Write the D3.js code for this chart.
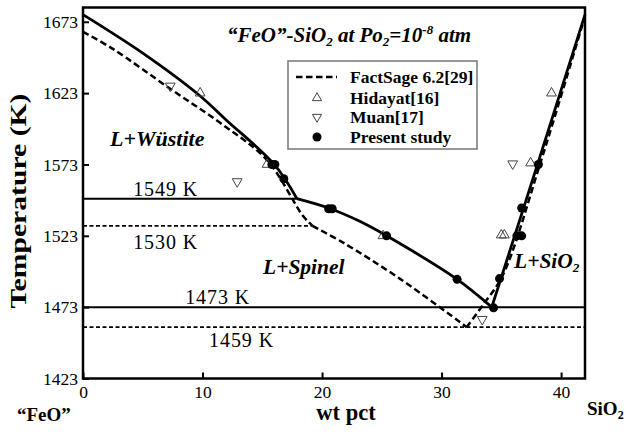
<!DOCTYPE html>
<html>
<head>
<meta charset="utf-8">
<script src="https://cdn.jsdelivr.net/npm/d3@7"></script>
<style>
  body { margin: 0; background: #fff; }
  svg { display: block; font-family: "Liberation Serif", "Times New Roman", serif; }
</style>
</head>
<body>
<svg id="chart" width="628" height="434"></svg>
<script>
// "FeO"-SiO2 phase diagram at Po2 = 1e-8 atm.
// Curves are [wt pct SiO2, temperature K] pairs.

const xTicks = [0, 10, 20, 30, 40];
const tTicks = [1423, 1473, 1523, 1573, 1623, 1673];

// Present study liquidus (solid)
const presentWustite = [[0, 1678], [5, 1651], [9.8, 1621], [12, 1604], [16, 1573], [17.9, 1549]];
const presentSpinel = [[17.9, 1549], [20.7, 1542], [23.2, 1533], [25.4, 1523], [31.3, 1492.5], [34.2, 1473]];
const presentSilica = [[34.2, 1473], [38.1, 1575], [42, 1678]];

// FactSage 6.2 liquidus (dashed)
const factWustite = [[0, 1666], [2.5, 1654], [7.3, 1626], [11.5, 1602], [15.4, 1576], [18.4, 1537], [19.2, 1530]];
const factSpinel = [[19.2, 1530], [21.8, 1518], [26.5, 1493], [32.1, 1459]];
const factSilica = [[32.1, 1459], [33.5, 1475], [35.1, 1495], [38.3, 1575], [42, 1677]];

// Isotherms: temperature, right end (wt pct), label
const isoTemps = [1549, 1530, 1473, 1459];
const isoEnds = [17.9, 19.2, 42, 42];
const isoLabels = ["1549 K", "1530 K", "1473 K", "1459 K"];

// Experimental points
const presentPts = [[15.8, 1573], [16.05, 1573], [16.8, 1563], [20.55, 1542], [20.85, 1542], [25.4, 1523],
  [31.3, 1492.5], [34.35, 1472.5], [34.85, 1493], [36.3, 1523], [36.7, 1523], [36.7, 1542.5], [38.1, 1573]];
const hidayatPts = [[9.8, 1623], [15.4, 1573], [25.1, 1523], [35.0, 1523.5], [35.25, 1523.5], [37.45, 1574], [39.2, 1623]];
const muanPts = [[7.3, 1628], [12.9, 1561], [33.4, 1464.5], [35.95, 1573.5]];

const legendNames = ["FactSage 6.2[29]", "Hidayat[16]", "Muan[17]", "Present study"];

const W = 628, H = 434;
const margin = { top: 7.5, right: 43, bottom: 55.5, left: 83 };
const iw = W - margin.left - margin.right;
const ih = H - margin.top - margin.bottom;

const svg = d3.select('#chart')
  .attr('font-family', '"Liberation Serif", "Times New Roman", serif');
const g = svg.append('g').attr('transform', `translate(${margin.left},${margin.top})`);

const x = d3.scaleLinear().domain([0, 42]).range([0, iw]);
const y = d3.scaleLinear().domain([1423, 1683]).range([ih, 0]);

// ----- Axes (ticks point inward) -----
const xAxis = g.append('g').attr('transform', `translate(0,${ih})`)
  .call(d3.axisBottom(x).tickValues(xTicks).tickSize(-6).tickPadding(7).tickFormat(d3.format('d')));
const yAxis = g.append('g')
  .call(d3.axisLeft(y).tickValues(tTicks).tickSize(-6).tickPadding(5).tickFormat(d3.format('d')));
[xAxis, yAxis].forEach(a => {
  a.attr('font-family', null);
  a.select('.domain').remove();
  a.selectAll('line').attr('stroke', '#000').attr('stroke-width', 2);
  a.selectAll('text').attr('fill', '#000').style('font-size', '17.5px')
    .style('font-family', '"Liberation Serif", "Times New Roman", serif');
});

// ----- Isotherms -----
const isoDash = [null, '4,2.5', null, '4,2.5'];
isoTemps.forEach((t, i) => {
  g.append('line')
    .attr('x1', x(0)).attr('x2', x(isoEnds[i]))
    .attr('y1', y(t)).attr('y2', y(t))
    .attr('stroke', '#000').attr('stroke-width', isoDash[i] ? 1.8 : 2)
    .attr('stroke-dasharray', isoDash[i]);
});
const isoLabelPos = [[4.2, -2.5], [4.2, 23], [8.55, -3], [10.55, 20]];
isoLabels.forEach((s, i) => {
  g.append('text')
    .attr('x', x(isoLabelPos[i][0])).attr('y', y(isoTemps[i]) + isoLabelPos[i][1])
    .attr('textLength', 64).attr('lengthAdjust', 'spacing')
    .style('font-size', '20px').text(s);
});

// ----- Liquidus curves -----
const line = d3.line().x(d => x(d[0])).y(d => y(d[1])).curve(d3.curveCatmullRom.alpha(0.5));
[presentWustite, presentSpinel, presentSilica].forEach(c => {
  g.append('path').attr('d', line(c)).attr('fill', 'none')
    .attr('stroke', '#000').attr('stroke-width', 2.8);
});
[factWustite, factSpinel, factSilica].forEach(c => {
  g.append('path').attr('d', line(c)).attr('fill', 'none')
    .attr('stroke', '#000').attr('stroke-width', 2.5).attr('stroke-dasharray', '6.5,3.5');
});

// ----- Points -----
const triUp = d3.symbol().type(d3.symbolTriangle).size(42);
g.selectAll('.hid').data(hidayatPts).enter().append('path')
  .attr('d', triUp)
  .attr('transform', d => `translate(${x(d[0])},${y(d[1])})`)
  .attr('fill', 'none').attr('stroke', '#444').attr('stroke-width', 1);
g.selectAll('.muan').data(muanPts).enter().append('path')
  .attr('d', triUp)
  .attr('transform', d => `translate(${x(d[0])},${y(d[1])}) rotate(180)`)
  .attr('fill', 'none').attr('stroke', '#444').attr('stroke-width', 1);
g.selectAll('.pres').data(presentPts).enter().append('circle')
  .attr('cx', d => x(d[0])).attr('cy', d => y(d[1])).attr('r', 4.5).attr('fill', '#000');

// ----- Frame -----
g.append('rect').attr('width', iw).attr('height', ih)
  .attr('fill', 'none').attr('stroke', '#000').attr('stroke-width', 2.5);

// ----- Legend -----
const lg = svg.append('g').attr('transform', 'translate(288,61)');
lg.append('rect').attr('width', 189).attr('height', 88)
  .attr('fill', '#fff').attr('stroke', '#777').attr('stroke-width', 1.5);
const rowY = [16, 37, 56, 76];
lg.append('line').attr('x1', 8).attr('x2', 49).attr('y1', rowY[0]).attr('y2', rowY[0])
  .attr('stroke', '#000').attr('stroke-width', 2.5).attr('stroke-dasharray', '6.5,3.5');
const triSmall = d3.symbol().type(d3.symbolTriangle).size(36);
lg.append('path').attr('d', triSmall).attr('transform', `translate(29,${rowY[1]})`)
  .attr('fill', 'none').attr('stroke', '#444').attr('stroke-width', 1);
lg.append('path').attr('d', triSmall).attr('transform', `translate(29,${rowY[2]}) rotate(180)`)
  .attr('fill', 'none').attr('stroke', '#444').attr('stroke-width', 1);
lg.append('circle').attr('cx', 29).attr('cy', rowY[3]).attr('r', 4.5).attr('fill', '#000');
legendNames.forEach((s, i) => {
  lg.append('text').attr('x', 62).attr('y', rowY[i] + 6)
    .style('font-size', '17.5px').style('font-weight', 'bold').text(s);
});

// ----- Title -----
const title = svg.append('text').attr('x', 227).attr('y', 42)
  .style('font-size', '21px').style('font-weight', 'bold').style('font-style', 'italic');
title.append('tspan').text('\u201CFeO\u201D-SiO');
title.append('tspan').attr('dy', 4).style('font-size', '13px').text('2');
title.append('tspan').attr('dy', -4).text(' at Po');
title.append('tspan').attr('dy', 4).style('font-size', '13px').text('2');
title.append('tspan').attr('dy', -4).text('=10');
title.append('tspan').attr('dy', -8).style('font-size', '13px').text('-8');
title.append('tspan').attr('dy', 8).text(' atm');

// ----- Region labels -----
function regionLabel(px, py, size, main, sub) {
  const t = svg.append('text').attr('x', px).attr('y', py)
    .style('font-size', size + 'px').style('font-weight', 'bold').style('font-style', 'italic');
  t.append('tspan').text(main);
  if (sub) t.append('tspan').attr('dy', 4).style('font-size', (size * 0.62) + 'px').text(sub);
}
regionLabel(110, 146, 22, 'L+W\u00FCstite');
regionLabel(263, 274, 21.5, 'L+Spinel');
regionLabel(514, 268, 21.5, 'L+SiO', '2');

// ----- Axis titles -----
svg.append('text').attr('transform', 'translate(26,201) rotate(-90)')
  .attr('text-anchor', 'middle').attr('textLength', 215).attr('lengthAdjust', 'spacingAndGlyphs')
  .style('font-size', '24px').style('font-weight', 'bold').text('Temperature (K)');
svg.append('text').attr('x', 346).attr('y', 420).attr('text-anchor', 'middle')
  .style('font-size', '22.5px').style('font-weight', 'bold').text('wt pct');
svg.append('text').attr('x', 17).attr('y', 421)
  .style('font-size', '19px').style('font-weight', 'bold').text('\u201CFeO\u201D');
const si = svg.append('text').attr('x', 587).attr('y', 415)
  .style('font-size', '19px').style('font-weight', 'bold');
si.append('tspan').text('SiO');
si.append('tspan').attr('dy', 4).style('font-size', '12px').text('2');
</script>
</body>
</html>
